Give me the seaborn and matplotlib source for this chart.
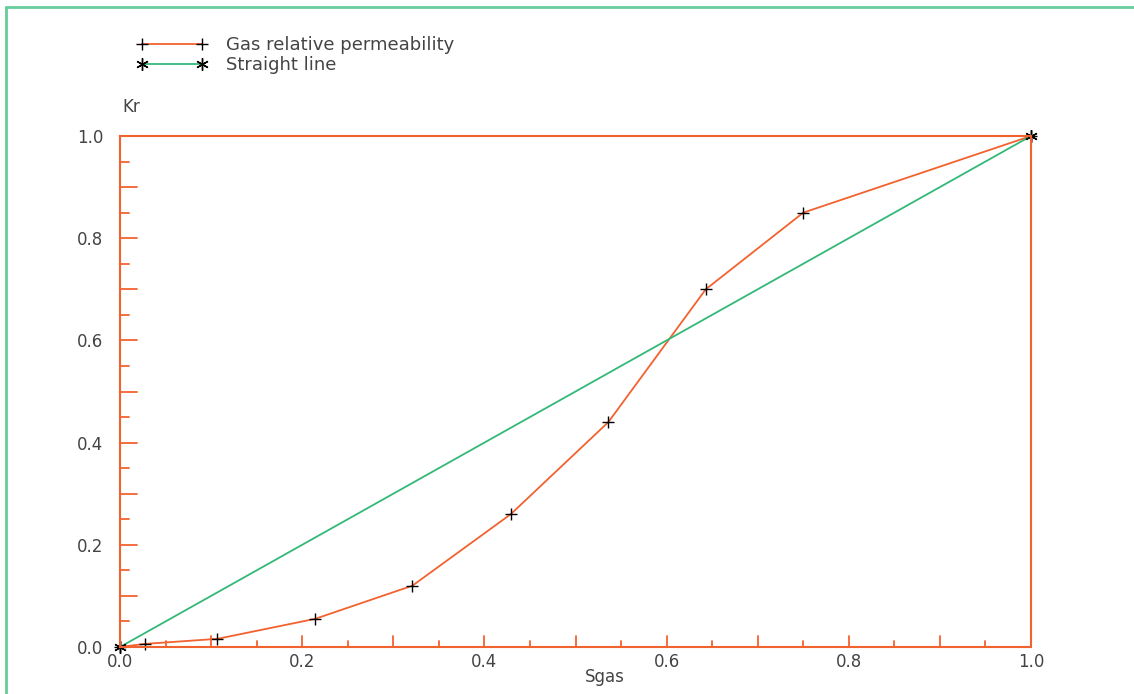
import numpy as np
import pandas as pd
import seaborn as sns
import matplotlib.pyplot as plt
from matplotlib.lines import Line2D

sns.set_theme(style="white")
plt.rcParams['font.family'] = ['DejaVu Sans']

# data
sgas = [0.0, 0.027, 0.107, 0.214, 0.321, 0.429, 0.536, 0.643, 0.75, 1.0]
kr_gas = [0.0, 0.006, 0.016, 0.055, 0.12, 0.26, 0.44, 0.70, 0.85, 1.0]
line_x = [0.0, 1.0]
line_y = [0.0, 1.0]
tick_vals = [0.0, 0.2, 0.4, 0.6, 0.8, 1.0]
tick_labels = ["0.0", "0.2", "0.4", "0.6", "0.8", "1.0"]

orange = "#f2622e"
green = "#33b878"
frame_green = "#66cc99"
txt = "#444444"

gas = pd.DataFrame({"Sgas": sgas, "Kr": kr_gas})
straight = pd.DataFrame({"Sgas": line_x, "Kr": line_y})

fig = plt.figure(figsize=(11.34, 6.94), dpi=100)
ax = fig.add_axes([120 / 1134, 1 - 647 / 694, 911 / 1134, 511 / 694])

sns.lineplot(data=gas, x="Sgas", y="Kr", ax=ax, color=orange, lw=1.3,
             marker="+", ms=8, mec="black", mew=1.0, clip_on=False,
             label="Gas relative permeability")
sns.lineplot(data=straight, x="Sgas", y="Kr", ax=ax, color=green, lw=1.3,
             marker=(6, 2, 0), ms=9, mec="black", mfc="black", mew=1.0,
             clip_on=False, label="Straight line")

ax.set_xlim(0, 1)
ax.set_ylim(0, 1)
ax.set_xlabel("")
ax.set_ylabel("")

for s in ax.spines.values():
    s.set_color(orange)
    s.set_linewidth(1.5)

ax.set_xticks(tick_vals, tick_labels)
ax.set_yticks(tick_vals, tick_labels)
ax.tick_params(axis="x", which="major", length=0, labelsize=12,
               labelcolor=txt, pad=4)
ax.tick_params(axis="y", which="major", length=0, labelsize=12,
               labelcolor=txt, pad=12)

# inward ticks drawn separately (0.1 long, 0.05 short)
for v in np.arange(0.05, 1.0, 0.05):
    major = abs(round(v * 10) - v * 10) < 1e-6
    ax.plot([v, v], [0, 0.022 if major else 0.011], color=orange, lw=1.3,
            clip_on=False)
    ax.plot([0, 0.019 if major else 0.01], [v, v], color=orange, lw=1.3,
            clip_on=False)

fig.text(122 / 1134, 1 - 107 / 694, "Kr", fontsize=12, color=txt,
         ha="left", va="center")
fig.text(605 / 1134, 1 - 677 / 694, "Sgas", fontsize=12, color=txt,
         ha="center", va="center")

ax.legend(loc="upper left", bbox_to_anchor=(128 / 1134, 1 - 27 / 694),
          bbox_transform=fig.transFigure, frameon=False, numpoints=2,
          handlelength=3.9, handletextpad=1.0, labelspacing=0.1,
          borderpad=0, fontsize=13, labelcolor=txt)

# green frame at top and left of the figure
fig.add_artist(Line2D([6 / 1134, 1], [1 - 7 / 694, 1 - 7 / 694],
                      color=frame_green, lw=2, transform=fig.transFigure))
fig.add_artist(Line2D([6 / 1134, 6 / 1134], [0, 1 - 7 / 694],
                      color=frame_green, lw=2, transform=fig.transFigure))

fig.savefig("out.png", dpi=100)
